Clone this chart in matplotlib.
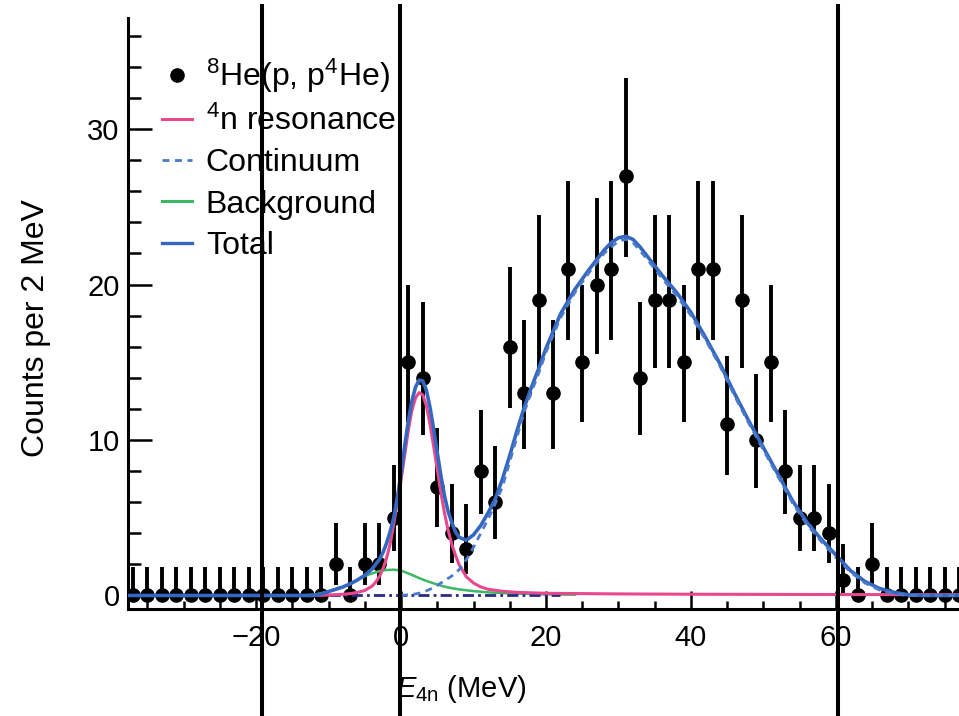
import numpy as np
import matplotlib
matplotlib.use("Agg")
import matplotlib.pyplot as plt
from matplotlib.lines import Line2D
from matplotlib.transforms import blended_transform_factory

plt.rcParams['font.family'] = ['Liberation Sans', 'DejaVu Sans']
plt.rcParams['mathtext.fontset'] = 'custom'
plt.rcParams['mathtext.rm'] = 'Liberation Sans'
plt.rcParams['mathtext.it'] = 'Liberation Sans:italic'
plt.rcParams['mathtext.bf'] = 'Liberation Sans:bold'

# ---------------- data ----------------
energy = [-37, -35, -33, -31, -29, -27, -25, -23, -21, -19, -17, -15, -13, -11,
          -9, -7, -5, -3, -1, 1, 3, 5, 7, 9, 11, 13, 15, 17, 19, 21, 23, 25, 27,
          29, 31, 33, 35, 37, 39, 41, 43, 45, 47, 49, 51, 53, 55, 57, 59, 61,
          63, 65, 67, 69, 71, 73, 75, 77]
counts = [0, 0, 0, 0, 0, 0, 0, 0, 0, 0, 0, 0, 0, 0,
          2, 0, 2, 2, 5, 15, 14, 7, 4, 3, 8, 6, 16, 13, 19, 13, 21, 15, 20,
          21, 27, 14, 19, 19, 15, 21, 21, 11, 19, 10, 15, 8, 5, 5, 4, 1,
          0, 2, 0, 0, 0, 0, 0, 0]
err_low = [0, 0, 0, 0, 0, 0, 0, 0, 0, 0, 0, 0, 0, 0,
           1.3, 0, 1.3, 1.3, 2.15, 3.85, 3.7, 2.6, 1.9, 1.65, 2.75, 2.4, 3.95, 3.55, 4.35, 3.55, 4.55, 3.85, 4.45,
           4.55, 5.2, 3.7, 4.35, 4.35, 3.85, 4.55, 4.55, 3.25, 4.35, 3.1, 3.85, 2.75, 2.15, 2.15, 1.9, 0.83,
           0, 1.3, 0, 0, 0, 0, 0, 0]
err_high = [1.85, 1.85, 1.85, 1.85, 1.85, 1.85, 1.85, 1.85, 1.85, 1.85, 1.85, 1.85, 1.85, 1.85,
            2.65, 1.85, 2.65, 2.65, 3.4, 4.95, 4.85, 3.8, 3.15, 2.9, 3.95, 3.6, 5.1, 4.7, 5.45, 4.7, 5.65, 4.95, 5.55,
            5.65, 6.25, 4.85, 5.45, 5.45, 4.95, 5.65, 5.65, 4.4, 5.45, 4.25, 4.95, 3.95, 3.4, 3.4, 3.15, 2.3,
            1.85, 2.65, 1.85, 1.85, 1.85, 1.85, 1.85, 1.85]

res_E = [-12, -10, -8, -7, -6, -5, -4, -3.5, -3, -2.5, -2, -1.5, -1, -0.5, 0, 0.5, 1,
         1.5, 2, 2.5, 3, 3.5, 4, 4.5, 5, 5.5, 6, 6.5, 7, 7.5, 8, 9, 10, 11, 12, 14,
         16, 20, 30, 40, 60, 78]
res_val = [0.0, 0.03, 0.08, 0.12, 0.2, 0.32, 0.6, 0.85, 1.2, 1.7, 2.4, 3.3, 4.6, 6.0, 7.4, 9.0, 10.6,
           11.9, 12.7, 13.05, 12.9, 12.2, 11.0, 9.6, 8.1, 6.6, 5.3, 4.2, 3.3, 2.6, 2.0, 1.2, 0.8, 0.55, 0.4, 0.27,
           0.2, 0.14, 0.1, 0.08, 0.06, 0.05]

bg_E = [-14, -12, -10, -8, -7, -6, -5, -4, -3, -2, -1, 0, 1, 2, 3, 4, 5, 6, 7, 8,
        10, 12, 15, 20, 24]
bg_val = [0.0, 0.05, 0.25, 0.55, 0.75, 1.0, 1.25, 1.42, 1.56, 1.64, 1.66, 1.6, 1.42, 1.22, 1.02, 0.86, 0.7, 0.57, 0.47, 0.39,
          0.28, 0.2, 0.13, 0.07, 0.05]

cont_E = [0, 2, 3, 4, 5, 6, 7, 8, 9, 10, 11, 12, 13, 14, 15, 16, 17, 18, 19, 20,
          22, 24, 26, 28, 30, 31, 32, 34, 36, 38, 40, 42, 44, 46, 48, 50, 52, 54,
          56, 58, 60, 62, 64, 66, 68, 70, 78]
cont_val = [0.0, 0.1, 0.2, 0.4, 0.65, 0.95, 1.25, 1.65, 2.3, 3.1, 4.0, 4.9, 5.9, 7.0, 8.6, 10.2, 11.8, 13.1, 14.3, 15.65,
            17.85, 19.5, 20.8, 22.0, 22.8, 22.9, 22.7, 21.6, 20.4, 19.3, 18.0, 16.45, 14.75, 12.85, 11.05, 9.35, 7.65, 5.95,
            4.55, 3.45, 2.45, 1.5, 0.8, 0.35, 0.1, 0.0, 0.0]

tot_E = [-38, -12, -11, -10, -9, -8, -7, -6, -5, -4, -3, -2.5, -2, -1.5, -1, -0.5, 0,
         0.5, 1, 1.5, 2, 2.5, 3, 3.5, 4, 4.5, 5, 5.5, 6, 6.5, 7, 7.5, 8, 9, 10, 11,
         12, 13, 14, 15, 16, 17, 18, 19, 20, 22, 24, 26, 28, 29, 30, 31, 32, 33, 34,
         36, 38, 40, 42, 44, 46, 48, 50, 52, 54, 56, 58, 60, 62, 64, 66, 68, 70, 72, 78]
tot_val = [0.0, 0.0, 0.1, 0.25, 0.4, 0.55, 0.75, 1.0, 1.3, 1.7, 2.3, 2.75, 3.35, 4.1, 5.0, 6.3, 7.8,
           9.6, 11.2, 12.5, 13.4, 13.85, 13.8, 13.2, 12.1, 10.7, 9.2, 7.7, 6.4, 5.4, 4.7, 4.1, 3.75, 3.55, 3.9, 4.5,
           5.3, 6.2, 7.5, 9.0, 10.6, 12.1, 13.4, 14.6, 15.9, 18.1, 19.7, 21.0, 22.2, 22.7, 23.0, 23.1, 22.9, 22.4, 21.8,
           20.6, 19.5, 18.2, 16.6, 14.9, 13.0, 11.2, 9.5, 7.8, 6.1, 4.7, 3.6, 2.6, 1.6, 0.9, 0.45, 0.2, 0.05, 0.0, 0.0]

other_E = [-10, 22]
other_val = [0, 0]

guide_E = [-19.2, -0.1, 60.3]

x_ticks = [-20, 0, 20, 40, 60]
y_ticks = [0, 10, 20, 30]

labels = [r'$^{8}$He(p, p$^{4}$He)', r'$^{4}$n resonance', 'Continuum', 'Background', 'Total']

# ---------------- style ----------------
c_pink = '#e8488c'
c_blue = '#3567c0'
c_dash = '#4a7bcb'
c_green = '#3cb864'
c_navy = '#2a2a86'

fig = plt.figure(figsize=(9.59, 7.16), dpi=100)
ax = fig.add_axes([128/959, 107/716, 831/959, 591/716])

ax.errorbar(energy, counts, yerr=[err_low, err_high], fmt='o', color='black',
            ms=9.5, elinewidth=2.8, capsize=0, zorder=2)
ax.plot(bg_E, bg_val, color=c_green, lw=1.8, zorder=3)
ax.plot(other_E, other_val, color=c_navy, lw=2.0, dashes=(4, 1.5, 1, 1.5), zorder=3.5)
ax.plot(res_E, res_val, color=c_pink, lw=2.2, zorder=4)
ax.plot(tot_E, tot_val, color=c_blue, lw=2.6, zorder=5)
ax.plot(cont_E, cont_val, color=c_dash, lw=2.0, dashes=(2.5, 2), zorder=6)

ax.set_xlim(-37.66, 76.97)
ax.set_ylim(-0.87, 37.14)
ax.set_xticks(x_ticks)
ax.set_yticks(y_ticks)
ax.xaxis.set_minor_locator(matplotlib.ticker.MultipleLocator(5))
ax.yaxis.set_minor_locator(matplotlib.ticker.MultipleLocator(2))

for s in ['top', 'right']:
    ax.spines[s].set_visible(False)
for s in ['left', 'bottom']:
    ax.spines[s].set_linewidth(2.2)

ax.tick_params(axis='both', which='both', direction='in', width=1.8, labelsize=21)
ax.tick_params(axis='y', which='major', length=17, pad=6)
ax.tick_params(axis='y', which='minor', length=9.5)
ax.tick_params(axis='x', which='major', length=13, pad=11)
ax.tick_params(axis='x', which='minor', length=6)

ax.set_xlabel(r'$E_{\mathrm{4n}}$ (MeV)', fontsize=21)
ax.xaxis.set_label_coords(0.401, -0.108)
ax.set_ylabel('Counts per 2 MeV', fontsize=23)
ax.yaxis.set_label_coords(-0.093, 0.4755)

handles = [
    Line2D([], [], color='black', marker='o', ms=9.5, ls='none'),
    Line2D([], [], color=c_pink, lw=2.2),
    Line2D([], [], color=c_dash, lw=2.0, dashes=(2.5, 2)),
    Line2D([], [], color=c_green, lw=2.2),
    Line2D([], [], color=c_blue, lw=2.4),
]
leg = ax.legend(handles, labels, loc='upper left', bbox_to_anchor=(0.041, 0.935),
                frameon=False, fontsize=23, borderpad=0, borderaxespad=0,
                handlelength=0.95, handletextpad=0.42, labelspacing=0.35)

trans = blended_transform_factory(ax.transData, fig.transFigure)
for g in guide_E:
    ax.plot([g, g], [0, 0.9916], transform=trans, color='black', lw=2.9,
            clip_on=False, zorder=10)

fig.savefig('out.png', dpi=100)
